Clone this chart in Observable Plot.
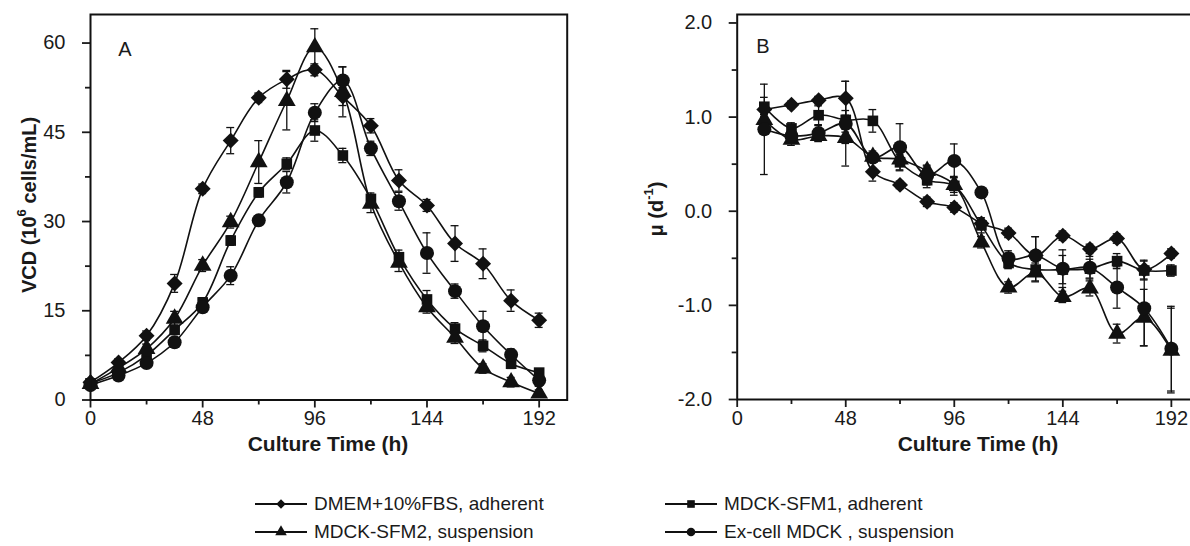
<!DOCTYPE html>
<html><head><meta charset="utf-8">
<script src="https://cdn.jsdelivr.net/npm/d3@7"></script>
<script src="https://cdn.jsdelivr.net/npm/@observablehq/plot@0.6"></script>
<style>
body{margin:0;background:#fff;overflow:hidden;font-family:"Liberation Sans",Arial,Helvetica,sans-serif;color:#1a1a1a}
#wrap{position:relative;width:1190px;height:546px;overflow:hidden;background:#fff}
#a,#b{position:absolute;top:0}
#a{left:0}#b{left:600px}
.leg{position:absolute;height:24px;font-size:19px;line-height:24px;white-space:nowrap;color:#1a1a1a}
.leg svg{position:absolute;left:0;top:2px}
.leg span{position:absolute;top:0}
</style></head><body><div id="wrap"><div id="a"></div><div id="b"></div><div id="legend"></div></div>
<script>
// ---------- data ----------
const seriesNames = ["DMEM+10%FBS, adherent","MDCK-SFM1, adherent","MDCK-SFM2, suspension","Ex-cell MDCK , suspension"];
const seriesSymbols = ["diamond2","square","triangle","circle"];

const timeA = [0,12,24,36,48,60,72,84,96,108,120,132,144,156,168,180,192];
const dmemA = [3.0,6.3,10.8,19.6,35.5,43.6,50.8,53.9,55.5,51.0,46.1,36.9,32.7,26.3,22.9,16.7,13.4];
const dmemAerr = [0.5,0.6,0.8,1.5,0.8,2.2,0.8,1.5,1.0,1.5,1.2,1.8,1.0,3.0,2.5,1.8,1.2];
const sfm1A = [2.8,4.6,7.5,11.8,16.4,26.8,34.9,39.7,45.3,41.1,33.8,24.0,16.9,12.0,9.1,6.1,4.6];
const sfm1Aerr = [0.5,0.5,0.6,0.8,0.8,0.8,0.8,1.0,1.8,1.2,1.0,1.2,1.5,1.0,1.0,0.8,0.6];
const sfm2A = [2.7,5.4,8.6,13.7,22.6,29.9,40.0,50.3,59.3,51.8,33.0,23.1,15.6,10.5,5.3,3.0,1.1];
const sfm2Aerr = [0.5,0.5,0.8,1.2,1.0,1.0,3.6,4.9,3.1,4.2,1.5,1.5,1.0,1.0,0.8,0.8,0.6];
const excA = [2.5,4.1,6.2,9.7,15.6,20.9,30.2,36.6,48.3,53.7,42.3,33.4,24.7,18.3,12.4,7.6,3.3];
const excAerr = [0.5,0.5,0.6,0.8,0.8,1.5,0.8,1.8,1.5,2.3,1.2,1.5,3.4,1.2,2.5,1.0,1.0];

const timeB = [12,24,36,48,60,72,84,96,108,120,132,144,156,168,180,192];
const dmemB = [1.08,1.13,1.18,1.20,0.42,0.28,0.10,0.04,-0.13,-0.23,-0.47,-0.26,-0.40,-0.29,-0.62,-0.45];
const dmemBerr = [0.05,0.04,0.04,0.18,0.10,0.04,0.05,0.05,0.06,0.05,0.20,0.05,0.05,0.05,0.10,0.05];
const sfm1B = [1.11,0.88,1.02,0.97,0.96,0.52,0.33,0.27,-0.15,-0.55,-0.62,-0.62,-0.61,-0.53,-0.63,-0.63];
const sfm1Berr = [0.10,0.06,0.10,0.10,0.12,0.08,0.08,0.10,0.08,0.06,0.12,0.15,0.10,0.08,0.10,0.06];
const sfm2B = [0.97,0.76,0.80,0.78,0.58,0.55,0.43,0.28,-0.33,-0.81,-0.65,-0.91,-0.82,-1.30,-1.13,-1.48];
const sfm2Berr = [0.06,0.06,0.06,0.06,0.06,0.06,0.06,0.08,0.06,0.06,0.10,0.06,0.08,0.10,0.30,0.45];
const excB = [0.87,0.80,0.83,0.93,0.57,0.68,0.38,0.535,0.20,-0.50,-0.47,-0.61,-0.60,-0.81,-1.03,-1.46];
const excBerr = [0.48,0.06,0.08,0.45,0.05,0.25,0.10,0.18,0.05,0.08,0.20,0.20,0.12,0.22,0.40,0.45];

const xTicks = [0,48,96,144,192];
const xMinor = [24,72,120,168];
const yTicksA = [0,15,30,45,60];
const yMinorA = [7.5,22.5,37.5,52.5];
const yTicksB = [-2,-1,0,1,2];
const yMinorB = [-1.5,-0.5,0.5,1.5];

function rows(times, vals, errs, k){
  return times.map((h,i)=>({h, v: vals[i], e: errs[i], s: seriesNames[k], k}));
}
const dataA = [rows(timeA,dmemA,dmemAerr,0),rows(timeA,sfm1A,sfm1Aerr,1),rows(timeA,sfm2A,sfm2Aerr,2),rows(timeA,excA,excAerr,3)];
const dataB = [rows(timeB,dmemB,dmemBerr,0),rows(timeB,sfm1B,sfm1Berr,1),rows(timeB,sfm2B,sfm2Berr,2),rows(timeB,excB,excBerr,3)];

const INK = "#111";
const symR = [7.2,6.0,6.6,7.0];
const FONT = '"Liberation Sans",Arial,Helvetica,sans-serif';

function panel(data, cfg){
  const all = data.flat();
  const marks = [
    Plot.axisX({ticks: xTicks, tickSize: 8, tickPadding: 3, label: null, strokeWidth: 1.8, fontSize: 20}),
    Plot.axisX({ticks: xMinor, tickSize: 5, text: null, label: null, strokeWidth: 1.8}),
    Plot.axisY({ticks: cfg.yTicks, tickSize: 8, tickPadding: 17, label: null, strokeWidth: 1.8, fontSize: 20, tickFormat: cfg.fmt}),
    Plot.axisY({ticks: cfg.yMinor, tickSize: 5, text: null, label: null, strokeWidth: 1.8}),
    Plot.ruleX(all, {x: "h", y1: d=>d.v-d.e, y2: d=>d.v+d.e, stroke: INK, strokeWidth: 1.3}),
    Plot.ruleY(all, {y: d=>d.v+d.e, x1: d=>d.h-1.7, x2: d=>d.h+1.7, stroke: INK, strokeWidth: 1.3}),
    Plot.ruleY(all, {y: d=>d.v-d.e, x1: d=>d.h-1.7, x2: d=>d.h+1.7, stroke: INK, strokeWidth: 1.3}),
    Plot.line(all, {x: "h", y: "v", z: "s", curve: "catmull-rom", stroke: INK, strokeWidth: 1.6}),
  ];
  data.forEach((d,k)=>marks.push(Plot.dot(d, {x: "h", y: "v", symbol: seriesSymbols[k], r: symR[k], fill: INK, stroke: "none"})));
  marks.push(Plot.frame({stroke: INK, strokeWidth: 2}));
  const svg = Plot.plot({
    width: cfg.width, height: 460,
    marginLeft: cfg.ml, marginRight: cfg.mr, marginTop: 14, marginBottom: cfg.mb,
    x: {domain: [0,204]},
    y: {domain: cfg.yDomain},
    style: {fontFamily: FONT, fontSize: "20px", color: "#1a1a1a", background: "transparent", overflow: "hidden"},
    marks
  });
  svg.style.overflow = "hidden";
  return svg;
}

const svgA = panel(dataA, {width: 600, ml: 90, mr: 33.3, mb: 60.5, yDomain: [0,64.8], yTicks: yTicksA, yMinor: yMinorA, fmt: d=>String(d)});
const svgB = panel(dataB, {width: 590, ml: 136.7, mr: -8, mb: 61, yDomain: [-2,2.09], yTicks: yTicksB, yMinor: yMinorB, fmt: d=>d.toFixed(1)});
document.getElementById("a").appendChild(svgA);
document.getElementById("b").appendChild(svgB);

function addText(svg, x, y, opts={}){
  return d3.select(svg).append("text")
    .attr("transform", `translate(${x},${y})` + (opts.rot ? " rotate(-90)" : ""))
    .attr("text-anchor", "middle")
    .attr("dominant-baseline", "central")
    .attr("font-family", FONT).attr("font-size", opts.size || 20)
    .attr("font-weight", opts.bold ? "bold" : "normal")
    .attr("fill", "#1a1a1a");
}
// panel A
addText(svgA, 328, 443, {bold: true, size: 21}).text("Culture Time (h)");
{
  const t = addText(svgA, 29, 205, {bold: true, rot: true});
  t.append("tspan").text("VCD (10");
  t.append("tspan").attr("baseline-shift", "super").attr("font-size", 13).text("6");
  t.append("tspan").text(" cells/mL)");
}
addText(svgA, 125, 49).text("A");
// panel B (svg offset 600)
addText(svgB, 978-600, 443, {bold: true, size: 21}).text("Culture Time (h)");
{
  const t = addText(svgB, 656-600, 209, {bold: true, rot: true});
  t.append("tspan").text("μ (d");
  t.append("tspan").attr("baseline-shift", "super").attr("font-size", 13).text("-1");
  t.append("tspan").text(")");
}
addText(svgB, 763-600, 46).text("B");

// legend
const legPos = [[255,504],[665,504],[255,532],[665,532]];
const legend = document.getElementById("legend");
const symMap = {diamond2: d3.symbolDiamond2, square: d3.symbolSquare, triangle: d3.symbolTriangle, circle: d3.symbolCircle};
seriesNames.forEach((name,k)=>{
  const [x,y] = legPos[k];
  const div = document.createElement("div");
  div.className = "leg";
  div.style.left = x + "px";
  div.style.top = (y-12) + "px";
  const w = 52;
  const s = d3.create("svg").attr("width", w).attr("height", 20);
  s.append("line").attr("x1",0).attr("x2",w).attr("y1",10).attr("y2",10).attr("stroke",INK).attr("stroke-width",2.2);
  s.append("path").attr("d", d3.symbol(symMap[seriesSymbols[k]], 4.3*4.3*Math.PI)()).attr("transform","translate(26,10)").attr("fill",INK);
  div.appendChild(s.node());
  const sp = document.createElement("span");
  sp.style.left = (w + 7) + "px";
  sp.textContent = name;
  div.appendChild(sp);
  legend.appendChild(div);
});
</script>
</body></html>
